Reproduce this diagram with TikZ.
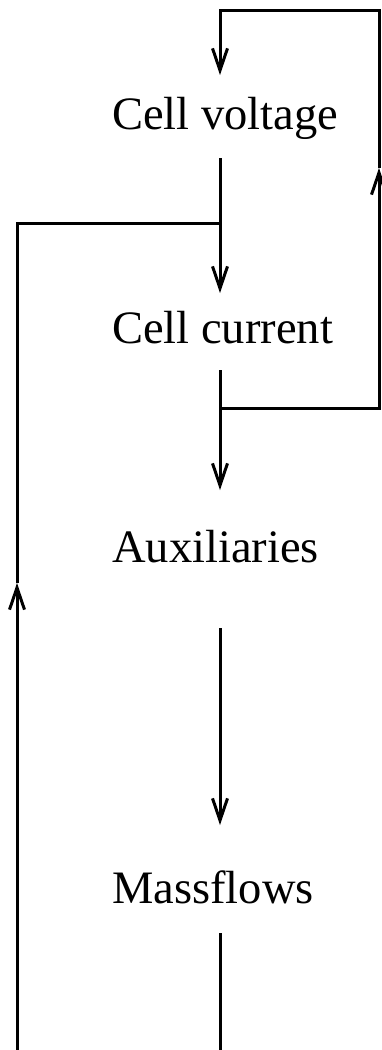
\documentclass[tikz,border=0pt]{standalone}
\usepackage{fontspec}
\setmainfont{Liberation Serif}
\usetikzlibrary{arrows.meta}
\tikzset{
  lbl/.style={inner sep=0pt, anchor=base west, font=\fontsize{46.5}{50}\selectfont},
  wire/.style={line width=3pt, line join=miter},
  arr/.style={wire, -{Straight Barb[length=22pt,width=15pt,line width=3pt]}}
}
\begin{document}
\begin{tikzpicture}[x=1pt,y=-1pt]
\useasboundingbox (0,0) rectangle (381,1050);
% labels
\node[lbl] (cv) at (112,129) {Cell voltage};
\node[lbl] (cc) at (112,343) {Cell current};
\node[lbl] (aux) at (112,562) {Auxiliaries};
\node[lbl] (mf) at (112,903) {Massflows};
% coordinates
\coordinate (cvtop) at (220,75);
\coordinate (cvbot) at (220,158);
\coordinate (j1) at (220,223);
\coordinate (cctop) at (220,293);
\coordinate (ccbot) at (220,370);
\coordinate (j2) at (220,408);
\coordinate (auxtop) at (220,490);
\coordinate (auxbot) at (220,628);
\coordinate (mftop) at (220,825);
\coordinate (mfbot) at (220,933);
\coordinate (mfend) at (220,1050);
\coordinate (r1) at (379,408);
\coordinate (rarr) at (379,168);
\coordinate (r2) at (379,10);
\coordinate (t1) at (220,10);
\coordinate (lstart) at (17,1050);
\coordinate (larr) at (17,583);
\coordinate (l1) at (17,223);
% connectors
\draw[arr] (cvbot) -- (cctop);
\draw[wire] (ccbot) -- (j2);
\draw[arr] (j2) -- (auxtop);
\draw[arr] (auxbot) -- (mftop);
\draw[wire] (mfbot) -- (mfend);
% feedback right
\draw[arr] (j2) -- (r1) -- (rarr);
\draw[arr] (rarr) -- (r2) -- (t1) -- (cvtop);
% feedback left
\draw[arr] (lstart) -- (larr);
\draw[wire] (larr) -- (l1) -- (j1);
\end{tikzpicture}
\end{document}
